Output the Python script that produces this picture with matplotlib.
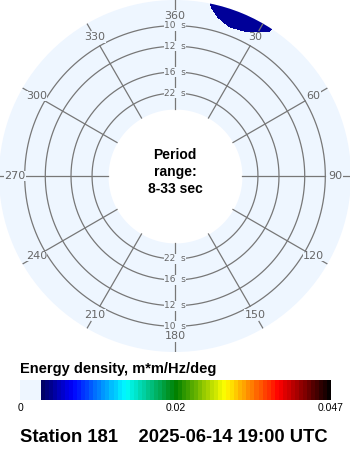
import numpy as np
import matplotlib.pyplot as plt
from matplotlib.colors import LinearSegmentedColormap, Normalize

plt.rcParams['font.family'] = ['Liberation Sans', 'DejaVu Sans']

# spectrum (m*m/Hz/deg)
directions = [0, 5, 10, 15, 20, 25, 30, 35, 40, 45]
periods = [10.0, 9.5, 9.0, 8.5, 8.0]
energy = [
    [0, 0, 0, 0.0002, 0.0003, 0.0002, 0.0001, 0, 0, 0],
    [0, 0, 0, 0.0005, 0.00075, 0.00056, 0.0003, 0.0001, 0, 0],
    [0, 0, 0.0002, 0.00095, 0.0016, 0.0015, 0.0008, 0.0003, 0.0001, 0],
    [0, 0.0001, 0.0005, 0.0016, 0.0020, 0.0019, 0.0015, 0.0007, 0.0002, 0],
    [0, 0.0001, 0.0009, 0.0017, 0.0022, 0.0021, 0.0016, 0.0008, 0.0003, 0.0001],
]

ring_periods = [10, 12, 16, 22]
angle_ticks = [0, 30, 60, 90, 120, 150, 180, 210, 240, 270, 300, 330]
angle_labels = ['360', '30', '60', '90', '120', '150', '180', '210', '240', '270', '300', '330']
period_text = 'Period\nrange:\n8-33 sec'
cbar_title = 'Energy density, m*m/Hz/deg'
cbar_ticks = ['0', '0.02', '0.047']
vmax = 0.047
title = 'Station 181    2025-06-14 19:00 UTC'

disk = '#eef6ff'
grid_c = '#777777'
text_c = '#666666'

cmap = LinearSegmentedColormap.from_list('wave', [
    (0.0, '#000060'), (0.11, '#0000ff'), (0.29, '#00ffff'), (0.465, '#008000'),
    (0.635, '#ffff00'), (0.82, '#ff0000'), (0.91, '#800000'), (1.0, '#000000')])

fig = plt.figure(figsize=(3.5, 4.5), dpi=100)

# polar panel, radius is frequency (Hz); centre sits below zero
f_origin, f_outer, f_inner = -0.0217, 0.1208, 0.0325
ax = fig.add_axes([-1 / 350, 98 / 450, 352 / 350, 352 / 450], projection='polar')
ax.set_theta_zero_location('N')
ax.set_theta_direction(-1)
ax.set_ylim(f_origin, f_outer)
ax.set_facecolor(disk)
ax.grid(False)
ax.set_xticks([])
ax.set_yticks([])
for s in ax.spines.values():
    s.set_visible(False)

full = np.linspace(0, 2 * np.pi, 361)
ax.fill_between(full, f_origin, f_inner, color='white', lw=0, zorder=1)

th = np.deg2rad(directions)
fr = 1 / np.array(periods)
ax.contourf(th, fr, np.array(energy), levels=np.arange(0.001, 0.0471, 0.002),
            cmap=cmap, norm=Normalize(0, vmax), zorder=2)

for p in ring_periods:
    ax.plot(full, np.full_like(full, 1 / p), color=grid_c, lw=0.9, zorder=3)

for a, lab in zip(angle_ticks, angle_labels):
    t = np.deg2rad(a)
    if a in (0, 180):
        ax.plot([t, t], [f_inner, f_outer], color=grid_c, lw=0.9, zorder=3)
    else:
        ax.plot([t, t], [f_inner, 0.1], color=grid_c, lw=0.9, zorder=3)
        ax.plot([t, t], [0.1143, f_outer], color=grid_c, lw=0.9, zorder=3)
    ax.text(t, 0.1079, lab, ha='center', va='center', fontsize=8, color=text_c,
            family='DejaVu Sans', zorder=4,
            bbox=dict(facecolor=disk, edgecolor='none', pad=0.3))

for a in (0, 180):
    for p in ring_periods:
        ax.text(np.deg2rad(a), 1 / p, f'{p}  s', ha='center', va='center',
                fontsize=6.5, color=text_c, family='DejaVu Sans', zorder=4,
                bbox=dict(facecolor=disk, edgecolor='none', pad=0.4))

ax.text(0.5, 0.5 + 4 / 352, period_text, transform=ax.transAxes, ha='center',
        va='center', fontsize=10, fontweight='bold', linespacing=1.25, zorder=5)

# colour bar
cax = fig.add_axes([20 / 350, 50 / 450, 311 / 350, 20 / 450])
n_bands = 72
edges = np.concatenate([[0], np.linspace(21 / 311, 1, n_bands + 1)])
band_cols = [disk] + [cmap((i + 0.5) / n_bands) for i in range(n_bands)]
cax.pcolormesh(edges, [0, 1], np.arange(n_bands + 1)[None, :],
               cmap=LinearSegmentedColormap.from_list('bar', band_cols, N=n_bands + 1))
cax.set_xlim(0, 1)
cax.set_ylim(0, 1)
cax.axis('off')
for x, lab in zip([0, 0.5, 1], cbar_ticks):
    cax.text(x, -0.15, lab, ha='center', va='top', fontsize=7.5, transform=cax.transAxes)

fig.text(20 / 350, 1 - 369 / 450, cbar_title, ha='left', va='center',
         fontsize=10.5, fontweight='bold')
fig.text(20 / 350, 1 - 437 / 450, title, ha='left', va='center',
         fontsize=13.2, fontweight='bold')

fig.savefig('out.png', dpi=100)
